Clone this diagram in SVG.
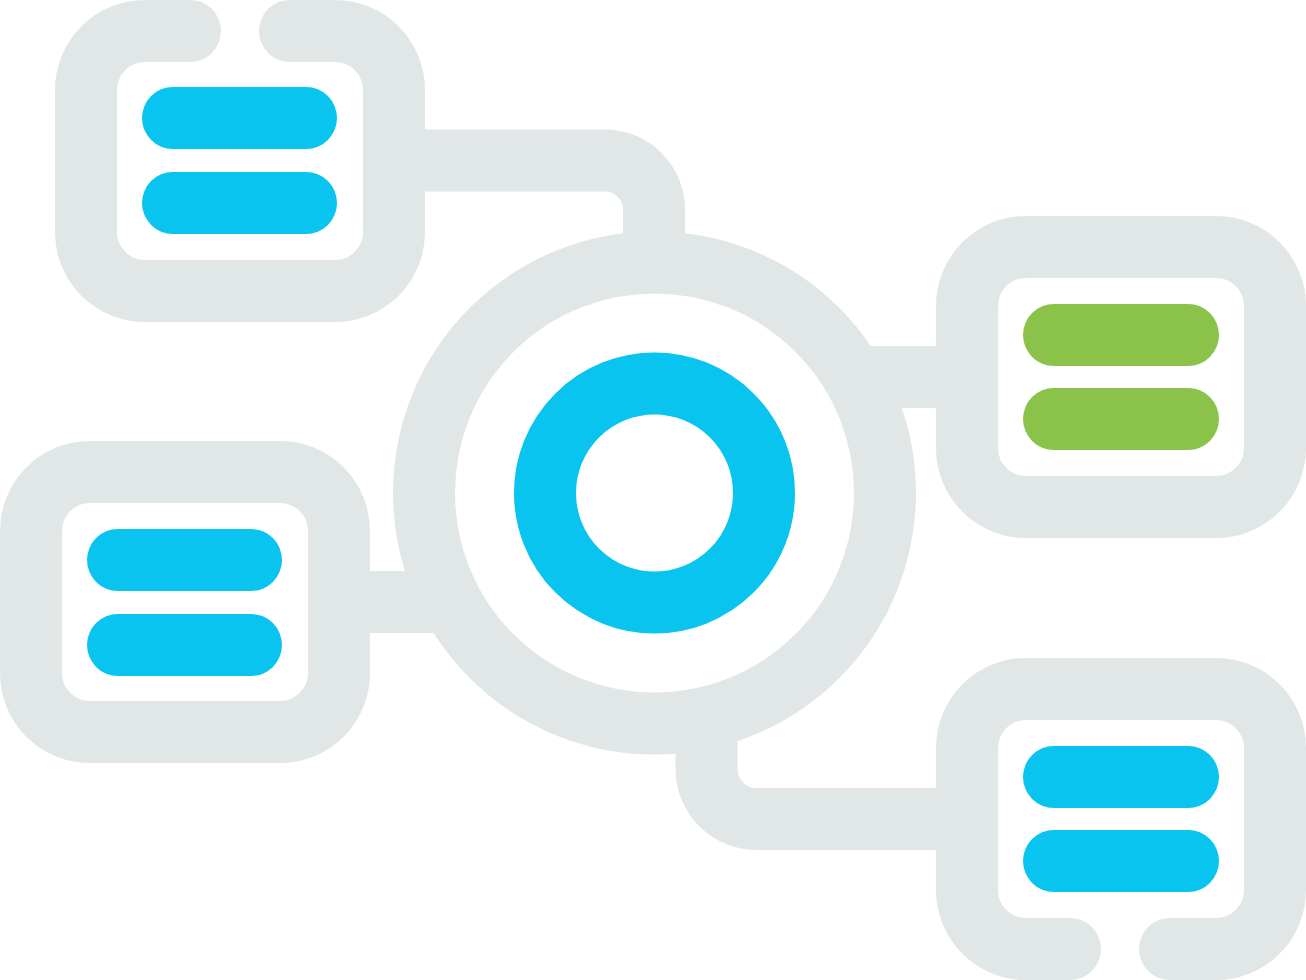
<svg xmlns="http://www.w3.org/2000/svg" width="1306" height="980" viewBox="0 0 1306 980">
<style>
.g{fill:none;stroke:#E1E7E7;stroke-width:62;stroke-linecap:round;stroke-linejoin:round}
.gb{fill:none;stroke:#E1E7E7;stroke-width:62;stroke-linecap:butt}
.b{fill:none;stroke:#08C4EE;stroke-width:62;stroke-linecap:round}
.gr{fill:none;stroke:#8BC34A;stroke-width:62;stroke-linecap:round}
</style>
<rect width="1306" height="980" fill="#FFFFFF"/>
<g id="connectors">
<path class="gb" d="M394 160.5 H605 A49 49 0 0 1 654 209.5 V260"/>
<path class="gb" d="M860 377 H967"/>
<path class="gb" d="M339 602 H450"/>
<path class="gb" d="M706.5 720 V769 A50 50 0 0 0 756.5 819 H967"/>
</g>
<g id="hub">
<circle cx="654.5" cy="493" r="230.5" class="g"/>
<circle cx="654.5" cy="493" r="109.5" class="b"/>
</g>
<g id="node-top-left">
<path class="g" d="M190 31 H145 A59 59 0 0 0 86 90 V232 A59 59 0 0 0 145 291 H335 A59 59 0 0 0 394 232 V90 A59 59 0 0 0 335 31 H290"/>
<path class="b" d="M173 118 H306 M173 203 H306"/>
</g>
<g id="node-right-top">
<rect x="967" y="247" width="308" height="260" rx="59" class="g"/>
<path class="gr" d="M1054 335 H1188 M1054 419 H1188"/>
</g>
<g id="node-left">
<rect x="31" y="472" width="308" height="260" rx="59" class="g"/>
<path class="b" d="M118 560 H251 M118 645 H251"/>
</g>
<g id="node-bottom-right">
<path class="g" d="M1070 949 H1026 A59 59 0 0 1 967 890 V748 A59 59 0 0 1 1026 689 H1216 A59 59 0 0 1 1275 748 V890 A59 59 0 0 1 1216 949 H1170"/>
<path class="b" d="M1054 777 H1188 M1054 861 H1188"/>
</g>
</svg>
